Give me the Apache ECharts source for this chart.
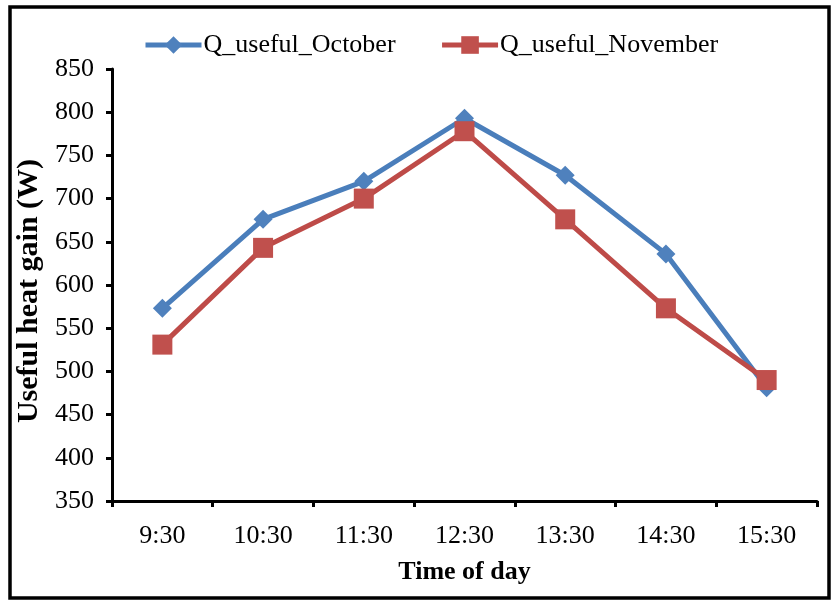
<!DOCTYPE html>
<html><head><meta charset="utf-8">
<script src="https://cdn.jsdelivr.net/npm/echarts@6/dist/echarts.min.js"></script>
<style>html,body{margin:0;padding:0;background:#fff}#c{width:832px;height:601px}</style>
</head><body><div id="c"></div>
<script>
const categories = ['9:30','10:30','11:30','12:30','13:30','14:30','15:30'];
const october = [573, 676, 720, 793, 727, 636, 481];
const november = [531, 643, 700, 778, 676, 573, 490];
const seriesNames = ['Q_useful_October','Q_useful_November'];
const yMin = 350, yMax = 850, yStep = 50;

const font = 'Liberation Serif';
const chart = echarts.init(document.getElementById('c'));
chart.setOption({
  animation: false,
  backgroundColor: '#fff',
  textStyle: {fontFamily: font},
  graphic: [{type:'rect', shape:{x:10, y:7, width:819, height:591}, style:{fill:'none', stroke:'#000', lineWidth:3.5}, silent:true}],
  legend: {
    top: 27, left: 138, itemGap: 44, itemWidth: 56, itemHeight: 22,
    lineStyle: {width: 5},
    textStyle: {fontFamily: font, fontSize: 26, color: '#000', padding: [0,0,0,-3]},
    data: seriesNames
  },
  grid: {left: 112, right: 15, top: 69, bottom: 100},
  xAxis: {
    type: 'category', data: categories, boundaryGap: true,
    name: 'Time of day', nameLocation: 'middle', nameGap: 58,
    nameTextStyle: {fontFamily: font, fontSize: 26, fontWeight: 'bold', color: '#000'},
    axisLine: {lineStyle: {color: '#000', width: 3}},
    axisTick: {show: true, inside: false, length: 6, lineStyle: {color:'#000', width: 3}, alignWithLabel: false},
    axisLabel: {fontFamily: font, fontSize: 26, color: '#000', margin: 22},
    splitLine: {show: false}
  },
  yAxis: {
    type: 'value', min: yMin, max: yMax, interval: yStep,
    name: 'Useful heat gain (W)', nameLocation: 'middle', nameGap: 67, nameRotate: 90,
    nameTextStyle: {fontFamily: font, fontSize: 30, fontWeight: 'bold', color: '#000', padding: [0, 12, 0, 0]},
    axisLine: {show: true, lineStyle: {color: '#000', width: 3}},
    axisTick: {show: true, inside: false, length: 6, lineStyle: {color:'#000', width: 3}},
    axisLabel: {fontFamily: font, fontSize: 26, color: '#000', margin: 18},
    splitLine: {show: false}
  },
  series: [
    {name: seriesNames[0], type: 'line', data: october, symbol: 'diamond', symbolSize: 19,
     lineStyle: {color: '#4a7ebb', width: 5}, itemStyle: {color: '#4f81bd'}, z: 2},
    {name: seriesNames[1], type: 'line', data: november, symbol: 'rect', symbolSize: 20,
     lineStyle: {color: '#be4b48', width: 5}, itemStyle: {color: '#c0504d'}, z: 3}
  ]
});
</script></body></html>
